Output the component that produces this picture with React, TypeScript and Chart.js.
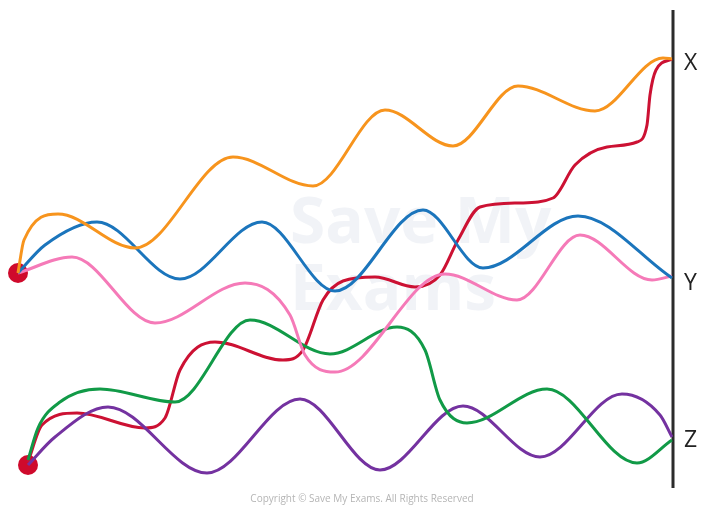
import React, { useEffect, useRef } from "react";
import { Chart, registerables } from "chart.js";

Chart.register(...registerables);

// Path point lists (diagram units: x to the right, y downward)
const orangeX = [18, 24, 58, 135, 233, 313, 385, 453, 518, 595, 663, 672];
const orangeY = [273, 240, 214, 248, 157, 186, 110, 146, 86, 111, 58, 59];

const blueX = [18, 45, 97, 180, 262, 335, 423, 483, 578, 672];
const blueY = [273, 245, 222, 279, 222, 291, 210, 268, 216, 278];

const pinkX = [18, 72, 155, 245, 290, 305, 335, 445, 517, 580, 652, 672];
const pinkY = [273, 257, 323, 283, 315, 355, 372, 274, 300, 235, 280, 276];

const redX = [28, 42, 77, 145, 165, 180, 215, 283, 303, 323, 343, 375, 415, 440, 458, 480, 520, 553, 575, 607, 637, 647, 650, 656, 672];
const redY = [462, 425, 413, 428, 418, 370, 342, 360, 350, 300, 281, 277, 287, 275, 240, 207, 203, 198, 165, 147, 142, 125, 95, 70, 59];

const greenX = [28, 38, 60, 100, 175, 250, 330, 397, 425, 440, 467, 547, 637, 672];
const greenY = [460, 428, 402, 389, 402, 320, 354, 327, 350, 400, 423, 389, 463, 440];

const purpleX = [28, 55, 108, 207, 300, 380, 463, 540, 622, 660, 672];
const purpleY = [465, 437, 407, 473, 399, 470, 406, 457, 394, 415, 437];

const startX = [18, 28];
const startY = [273, 465];

const barX = [673, 673];
const barY = [10, 488];

const endLabels = ["X", "Y", "Z"];
const endLabelY = [63, 283, 440];

const zip = (xs: number[], ys: number[]) => xs.map((x, i) => ({ x, y: ys[i] }));

const labelPlugin = {
  id: "labels",
  beforeDatasetsDraw(chart: any) {
    const { ctx, scales } = chart;
    ctx.save();
    ctx.fillStyle = "rgba(215,220,232,0.35)";
    ctx.font = "bold 64px 'Open Sans', sans-serif";
    ctx.textAlign = "left";
    ctx.textBaseline = "middle";
    ctx.fillText("Save My", scales.x.getPixelForValue(290), scales.y.getPixelForValue(225));
    ctx.fillText("Exams", scales.x.getPixelForValue(290), scales.y.getPixelForValue(292));
    ctx.restore();
  },
  afterDatasetsDraw(chart: any) {
    const { ctx, scales } = chart;
    ctx.save();
    ctx.fillStyle = "#222";
    ctx.font = "23px 'Open Sans', sans-serif";
    ctx.textAlign = "left";
    ctx.textBaseline = "middle";
    endLabels.forEach((t, i) => {
      ctx.fillText(t, scales.x.getPixelForValue(684), scales.y.getPixelForValue(endLabelY[i]));
    });
    ctx.fillStyle = "#b5b5b5";
    ctx.font = "10px 'Open Sans', sans-serif";
    ctx.textAlign = "center";
    ctx.fillText("Copyright © Save My Exams. All Rights Reserved", scales.x.getPixelForValue(362), scales.y.getPixelForValue(499));
    ctx.restore();
  },
};

export default function App() {
  const ref = useRef<HTMLCanvasElement>(null);
  useEffect(() => {
    const line = (xs: number[], ys: number[], color: string) => ({
      type: "line" as const,
      data: zip(xs, ys),
      borderColor: color,
      borderWidth: 3,
      pointRadius: 0,
      fill: false,
      cubicInterpolationMode: "monotone" as const,
      clip: false as any,
    });
    const chart = new Chart(ref.current!, {
      type: "line",
      data: {
        datasets: [
          line(orangeX, orangeY, "#F7941D"),
          line(blueX, blueY, "#1B75BC"),
          line(pinkX, pinkY, "#F57AB8"),
          line(greenX, greenY, "#119A47"),
          line(purpleX, purpleY, "#7432A0"),
          line(redX, redY, "#CC1133"),
          {
            type: "line",
            data: zip(barX, barY),
            borderColor: "#2b2b2b",
            borderWidth: 3,
            pointRadius: 0,
            tension: 0,
            clip: false as any,
          },
          {
            type: "scatter",
            data: zip(startX, startY),
            pointRadius: 10,
            pointBackgroundColor: "#CF0A2C",
            pointBorderWidth: 0,
            showLine: false,
            clip: false as any,
          },
        ] as any,
      },
      options: {
        animation: false,
        responsive: false,
        maintainAspectRatio: false,
        layout: { padding: 0, autoPadding: false } as any,
        plugins: { legend: { display: false }, tooltip: { enabled: false } },
        scales: {
          x: { type: "linear", min: 0, max: 703, display: false },
          y: { type: "linear", min: 0, max: 505, reverse: true, display: false },
        },
      },
      plugins: [labelPlugin],
    });
    return () => chart.destroy();
  }, []);
  return (
    <div style={{ position: "fixed", left: 0, top: 0, width: 703, height: 505, background: "#fff" }}>
      <canvas ref={ref} width={703} height={505} style={{ width: 703, height: 505, display: "block" }} />
    </div>
  );
}
